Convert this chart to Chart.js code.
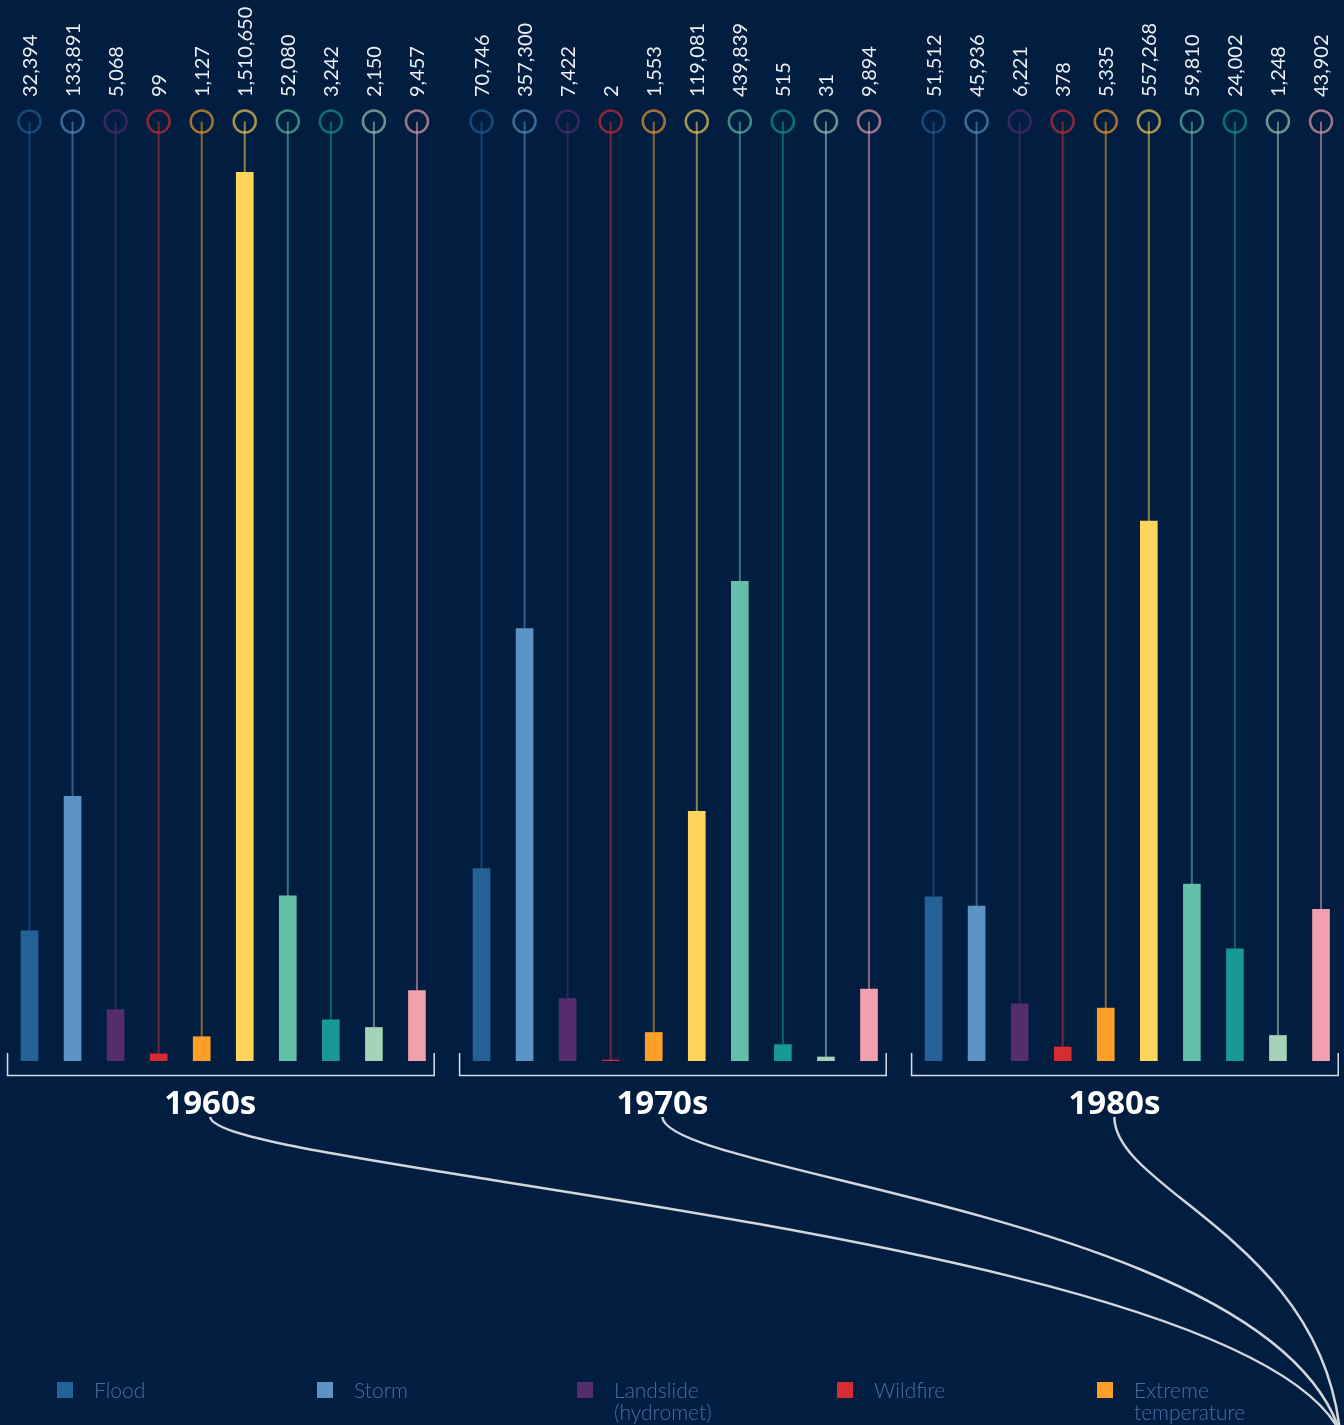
<!DOCTYPE html>
<html>
<head>
<meta charset="utf-8">
<title>Disaster deaths by decade</title>
<script src="https://cdn.jsdelivr.net/npm/chart.js@4.4.1/dist/chart.umd.min.js"></script>
<style>
  html, body { margin: 0; padding: 0; background: #011e41; }
  canvas { display: block; }
</style>
</head>
<body>
<canvas id="chart" width="1344" height="1425"></canvas>
<script>
// deaths per decade, one array per hazard type
const decades = ['1960s', '1970s', '1980s'];
const hazards = ['Flood', 'Storm', 'Landslide (hydromet)', 'Wildfire', 'Extreme temperature',
                 'Drought', 'Earthquake', 'Volcanic activity', 'Mass movement (dry)', 'Epidemic'];
const flood        = [32394, 70746, 51512];
const storm        = [133891, 357300, 45936];
const landslide    = [5068, 7422, 6221];
const wildfire     = [99, 2, 378];
const extremeTemp  = [1127, 1553, 5335];
const drought      = [1510650, 119081, 557268];
const earthquake   = [52080, 439839, 59810];
const volcanic     = [3242, 515, 24002];
const massMovement = [2150, 31, 1248];
const epidemic     = [9457, 9894, 43902];

const series = [flood, storm, landslide, wildfire, extremeTemp, drought, earthquake, volcanic, massMovement, epidemic];
const colors = ['#246196', '#5b93c5', '#552d6d', '#d62b33', '#ff9f27',
                '#ffd45a', '#64bfa8', '#179899', '#a4d3b9', '#f3a0ae'];

const GROUP_STEP = 10.5;   // slots between the start of two decades
const RING_Y = 121.5;
const LABEL_Y = 97;

// square-root value axis
class SqrtScale extends Chart.LinearScale {
  getPixelForValue(value) {
    return this.getPixelForDecimal(Math.sqrt(Math.max(value, 0)) / Math.sqrt(this.max));
  }
  getValueForPixel(pixel) {
    const d = this.getDecimalForPixel(pixel);
    return Math.pow(d * Math.sqrt(this.max), 2);
  }
}
SqrtScale.id = 'sqrt';
SqrtScale.defaults = Chart.LinearScale.defaults;
Chart.register(SqrtScale);

const maxValue = Math.max(...series.flat());

const datasets = series.map((vals, i) => ({
  label: hazards[i],
  data: vals.map((v, g) => ({ x: g * GROUP_STEP + i, y: v })),
  backgroundColor: colors[i],
  borderWidth: 0,
  barThickness: 17,
  grouped: false
}));

function wrap(ctx, text, maxW) {
  const words = text.split(' ');
  const lines = [];
  let cur = '';
  words.forEach(w => {
    const t = cur ? cur + ' ' + w : w;
    if (cur && ctx.measureText(t).width > maxW) { lines.push(cur); cur = w; }
    else cur = t;
  });
  lines.push(cur);
  return lines;
}

const decor = {
  id: 'decor',
  beforeDatasetsDraw(chart) {
    const ctx = chart.ctx;
    chart.data.datasets.forEach((ds, d) => {
      chart.getDatasetMeta(d).data.forEach((bar, g) => {
        ctx.save();
        ctx.strokeStyle = ds.backgroundColor;
        // stem from ring down to bar top
        ctx.globalAlpha = 0.55;
        ctx.lineWidth = 2;
        ctx.beginPath();
        ctx.moveTo(bar.x, RING_Y);
        ctx.lineTo(bar.x, bar.y);
        ctx.stroke();
        // ring
        ctx.globalAlpha = 0.65;
        ctx.lineWidth = 2.5;
        ctx.beginPath();
        ctx.arc(bar.x, RING_Y, 11, 0, Math.PI * 2);
        ctx.stroke();
        ctx.restore();

        // rotated value label
        ctx.save();
        ctx.translate(bar.x + 7, LABEL_Y);
        ctx.rotate(-Math.PI / 2);
        ctx.fillStyle = '#edf1f5';
        ctx.font = '20px Lato';
        ctx.textAlign = 'left';
        ctx.textBaseline = 'alphabetic';
        ctx.fillText(series[d][g].toLocaleString('en-US'), 0, 0);
        ctx.restore();
      });
    });
  },
  afterDraw(chart) {
    const ctx = chart.ctx;
    const xs = chart.scales.x;

    decades.forEach((dec, g) => {
      const left = xs.getPixelForValue(g * GROUP_STEP - 0.51);
      const right = xs.getPixelForValue(g * GROUP_STEP + 9.4);
      // bracket under each decade
      ctx.save();
      ctx.strokeStyle = '#d9dee5';
      ctx.lineWidth = 1.5;
      ctx.beginPath();
      ctx.moveTo(left, 1053);
      ctx.lineTo(left, 1075.5);
      ctx.lineTo(right, 1075.5);
      ctx.lineTo(right, 1053);
      ctx.stroke();
      ctx.restore();

      const cx = xs.getPixelForValue(g * GROUP_STEP + 4.2);
      ctx.save();
      ctx.fillStyle = '#ffffff';
      ctx.font = 'bold 33px "Open Sans"';
      ctx.textAlign = 'center';
      ctx.textBaseline = 'alphabetic';
      ctx.fillText(dec, cx, 1114);
      ctx.restore();
    });

    // connector curves from each decade label to the corner
    const ctrl = [[3, 1170, 1240, 1235], [4, 1175, 1270, 1215], [0, 1190, 1320, 1240]];
    ctx.save();
    ctx.strokeStyle = '#d3d6db';
    ctx.lineWidth = 2.5;
    decades.forEach((dec, g) => {
      const sx = xs.getPixelForValue(g * GROUP_STEP + 4.2);
      const c = ctrl[g];
      ctx.beginPath();
      ctx.moveTo(sx, 1117);
      ctx.bezierCurveTo(sx + c[0], c[1], c[2], c[3], 1340, 1432);
      ctx.stroke();
    });
    ctx.restore();

    // legend
    ctx.save();
    ctx.font = '300 21px Lato';
    ctx.textBaseline = 'alphabetic';
    hazards.forEach((name, i) => {
      const col = i % 5, row = Math.floor(i / 5);
      const x = 57 + col * 260;
      const y = 1382 + row * 70;
      ctx.fillStyle = colors[i];
      ctx.fillRect(x, y, 16, 16);
      ctx.fillStyle = '#4670a3';
      wrap(ctx, name, 150).forEach((line, k) => {
        ctx.fillText(line, x + 37, y + 16 + k * 22);
      });
    });
    ctx.restore();
  }
};

new Chart(document.getElementById('chart'), {
  type: 'bar',
  data: { datasets },
  options: {
    responsive: false,
    animation: false,
    layout: { padding: { top: 172, bottom: 364, left: 0, right: 0 } },
    plugins: { legend: { display: false }, tooltip: { enabled: false } },
    scales: {
      x: { type: 'linear', min: -0.6853, max: 30.534, offset: false, display: false, grid: { display: false } },
      y: { type: 'sqrt', min: 0, max: maxValue, display: false, grid: { display: false } }
    }
  },
  plugins: [decor]
});
</script>
</body>
</html>
